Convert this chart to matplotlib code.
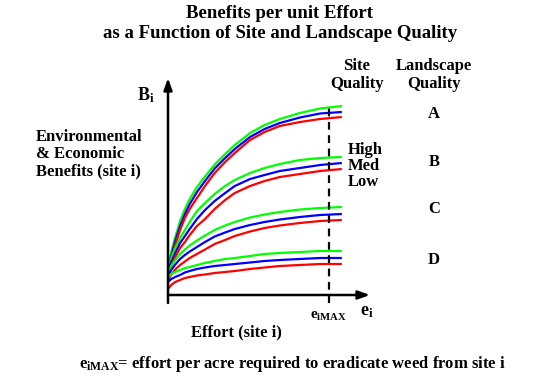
import matplotlib
matplotlib.use("Agg")
import matplotlib.pyplot as plt

plt.rcParams['font.family'] = ['Liberation Serif', 'DejaVu Serif']
plt.rcParams['font.weight'] = 'bold'
plt.rcParams['mathtext.fontset'] = 'custom'
plt.rcParams['mathtext.rm'] = 'Liberation Serif:bold'
plt.rcParams['mathtext.it'] = 'Liberation Serif:bold'
plt.rcParams['mathtext.bf'] = 'Liberation Serif:bold'

# Effort values (e_iMAX = 100)
effort = [0, 2, 4.5, 7.5, 10.5, 13.5, 18, 23, 29, 35.5, 41.5, 51, 60, 69.5, 82, 94.5, 108]

# Benefits for each landscape quality (A-D) and site quality (High, Med, Low)
A_high = [27, 43, 58, 74, 86, 96, 108, 118.5, 130.5, 141, 150, 162, 170, 176, 182, 186.5, 189]
A_med = [24, 39, 54, 69, 81, 91, 103, 114, 126.5, 137, 146, 158, 166, 172, 177.5, 181.5, 183]
A_low = [21, 35, 50, 65, 77, 86, 97, 109, 122, 133, 142, 155, 163, 169, 173, 176, 178]
B_high = [25, 37, 47, 57, 65, 73, 84, 92, 101, 109, 115, 122, 127, 131, 135, 137, 138]
B_med = [22, 33, 42, 52, 59, 66, 76, 85, 94, 102, 109, 116, 120, 124, 127, 130, 132]
B_low = [19, 29, 38, 47, 53, 60, 69, 76, 86, 95, 102, 109, 114, 118, 121, 124, 126]
C_high = [22, 29, 35, 41, 45.5, 49.5, 54.5, 59.5, 65, 69.5, 73, 77.5, 80.5, 83, 85.5, 87, 88]
C_med = [19, 25, 30.5, 36, 40, 43.5, 48, 53, 58.5, 62.5, 66, 70, 73, 75.5, 78, 80, 81]
C_low = [15, 20.5, 25.5, 30, 33.5, 37, 41, 45.5, 51, 55, 59, 63.5, 67, 69.5, 72, 74, 75]
D_high = [18, 21, 23, 25, 27, 28, 30, 32, 34, 36, 37, 39, 41, 42, 43, 44, 44]
D_med = [13, 16, 18, 20, 22.5, 24, 26, 27.5, 29, 30, 31, 32.5, 34, 35, 36, 37, 37]
D_low = [6, 10, 13, 15, 17, 18, 19.5, 20.5, 22, 23, 24, 26, 27.5, 29, 30, 31, 31]

landscape = ["A", "B", "C", "D"]
site = ["High", "Med", "Low"]
series = [[A_high, A_med, A_low], [B_high, B_med, B_low],
          [C_high, C_med, C_low], [D_high, D_med, D_low]]
colors = ["#00ff00", "#0000ff", "#ff0000"]

emax = 100
x_end = 125.5
y_top = 217

W, H = 560, 376
fig = plt.figure(figsize=(W / 100, H / 100), dpi=100)
fig.patch.set_facecolor("white")


def px(x, y):
    return x / W, 1 - y / H


ax = fig.add_axes([168 / W, 1 - 295 / H, (370 - 168) / W, (295 - 78) / H])
ax.set_xlim(0, x_end)
ax.set_ylim(0, y_top)
ax.axis("off")

for group in series:
    for vals, c in zip(group, colors):
        ax.plot(effort, vals, color=c, lw=1.6, solid_capstyle="butt",
                solid_joinstyle="round", clip_on=False)

# dashed e_iMAX line
ax.plot([emax, emax], [-8, 188], color="black", lw=1.6, ls=(0, (3.5, 2.5)), clip_on=False)

# axes with arrows
ax.annotate("", xy=(x_end, 0), xytext=(0, 0),
            arrowprops=dict(arrowstyle="-|>,head_length=0.7,head_width=0.25", color="black", lw=1.8,
                            shrinkA=0, shrinkB=0), annotation_clip=False)
ax.annotate("", xy=(0, y_top), xytext=(0, -8),
            arrowprops=dict(arrowstyle="-|>,head_length=0.7,head_width=0.25", color="black", lw=1.8,
                            shrinkA=0, shrinkB=0), annotation_clip=False)

fs = 12
tfs = 13.5
# titles
fig.text(*px(280, 14), "Benefits per unit Effort", ha="center", va="center", fontsize=tfs)
fig.text(*px(280, 34), "as a Function of Site and Landscape Quality", ha="center", va="center", fontsize=tfs)

# left label
fig.text(*px(36, 137), "Environmental", ha="left", va="center", fontsize=fs)
fig.text(*px(36, 154), "& Economic", ha="left", va="center", fontsize=fs)
fig.text(*px(36, 171), "Benefits (site i)", ha="left", va="center", fontsize=fs)

fig.text(*px(146, 95), r"B$_{\mathrm{i}}$", ha="center", va="center", fontsize=13)
fig.text(*px(367, 311), r"e$_{\mathrm{i}}$", ha="center", va="center", fontsize=13)
fig.text(*px(329, 316), r"e$_{\mathrm{iMAX}}$", ha="center", va="center", fontsize=11)

fig.text(*px(236, 332), "Effort (site i)", ha="center", va="center", fontsize=fs)
fig.text(*px(292, 364), r"e$_{\mathrm{iMAX}}$= effort per acre required to eradicate weed from site i",
         ha="center", va="center", fontsize=fs)

# right labels
fig.text(*px(357, 66), "Site", ha="center", va="center", fontsize=fs)
fig.text(*px(357, 84), "Quality", ha="center", va="center", fontsize=fs)
fig.text(*px(434, 66), "Landscape", ha="center", va="center", fontsize=fs)
fig.text(*px(434, 84), "Quality", ha="center", va="center", fontsize=fs)

for lab, y in zip(landscape, [114, 162, 209, 260]):
    fig.text(*px(434, y), lab, ha="center", va="center", fontsize=fs)
for lab, y in zip(site, [150, 166, 182]):
    fig.text(*px(348, y), lab, ha="left", va="center", fontsize=fs)

fig.savefig("out.png", dpi=100, facecolor="white")
